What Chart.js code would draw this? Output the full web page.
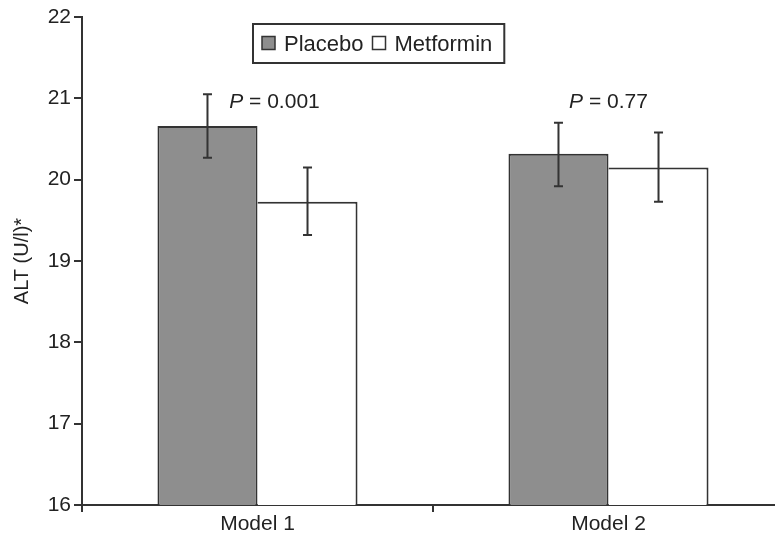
<!DOCTYPE html>
<html lang="en">
<head>
  <meta charset="UTF-8">
  <title>ALT by treatment</title>
  <script src="https://cdn.jsdelivr.net/npm/chart.js"></script>
  <style>
    body { margin: 0; background: #fff; overflow: hidden; }
    .wrap { width: 775px; height: 546px; overflow: hidden; }
    canvas { display: block; }
  </style>
</head>
<body>
  <div class="wrap"><canvas id="altChart" width="784" height="546"></canvas></div>

  <script>
    // Data
    const categories = ["Model 1", "Model 2"];
    const placebo = [20.66, 20.32];
    const metformin = [19.73, 20.15];
    const placeboHigh = [21.05, 20.70];
    const placeboLow = [20.27, 19.92];
    const metforminHigh = [20.15, 20.58];
    const metforminLow = [19.32, 19.73];
    const pValues = ["0.001", "0.77"];

    const ink = "#333";
    const fontFamily = "'Liberation Sans', Arial, sans-serif";

    // Error bars (whiskers with caps)
    const errorBars = {
      id: "errorBars",
      afterDatasetsDraw(chart) {
        const ctx = chart.ctx;
        const y = chart.scales.y;
        const ranges = [[placeboLow, placeboHigh], [metforminLow, metforminHigh]];
        ctx.save();
        ctx.strokeStyle = ink;
        ctx.lineWidth = 2;
        ranges.forEach(([lo, hi], di) => {
          chart.getDatasetMeta(di).data.forEach((bar, i) => {
            const yl = y.getPixelForValue(lo[i]);
            const yh = y.getPixelForValue(hi[i]);
            ctx.beginPath();
            ctx.moveTo(bar.x, yl); ctx.lineTo(bar.x, yh);
            ctx.moveTo(bar.x - 4.5, yl); ctx.lineTo(bar.x + 4.5, yl);
            ctx.moveTo(bar.x - 4.5, yh); ctx.lineTo(bar.x + 4.5, yh);
            ctx.stroke();
          });
        });
        ctx.restore();
      }
    };

    // P value labels above each model
    const pLabels = {
      id: "pLabels",
      afterDatasetsDraw(chart) {
        const ctx = chart.ctx;
        const x = chart.scales.x;
        const y = chart.scales.y;
        const shift = [17, 0];
        ctx.save();
        ctx.fillStyle = "#222";
        ctx.textBaseline = "middle";
        pValues.forEach((p, i) => {
          const rest = " = " + p;
          ctx.font = "italic 21px " + fontFamily;
          const wP = ctx.measureText("P").width;
          ctx.font = "21px " + fontFamily;
          const wR = ctx.measureText(rest).width;
          const left = x.getPixelForValue(i) + shift[i] - (wP + wR) / 2;
          const ty = y.getPixelForValue(21) + 4;
          ctx.font = "italic 21px " + fontFamily;
          ctx.fillText("P", left, ty);
          ctx.font = "21px " + fontFamily;
          ctx.fillText(rest, left + wP, ty);
        });
        ctx.restore();
      }
    };

    // Boxed legend inside the plot
    const boxLegend = {
      id: "boxLegend",
      afterDraw(chart) {
        const ctx = chart.ctx;
        const left = 253, top = 24, height = 39;
        const cy = top + height / 2;
        ctx.save();
        ctx.font = "22px " + fontFamily;
        ctx.textBaseline = "middle";
        let cx = left + 9;
        chart.data.datasets.forEach((ds, i) => {
          ctx.fillStyle = ds.backgroundColor;
          ctx.fillRect(cx, cy - 7, 13, 13);
          ctx.strokeStyle = ink;
          ctx.lineWidth = 1.5;
          ctx.strokeRect(cx, cy - 7, 13, 13);
          cx += 22;
          ctx.fillStyle = "#222";
          ctx.fillText(ds.label, cx, cy + 1);
          cx += ctx.measureText(ds.label).width + (i === 0 ? 9 : 12);
        });
        ctx.strokeStyle = ink;
        ctx.lineWidth = 2;
        ctx.strokeRect(left, top, cx - left, height);
        ctx.restore();
      }
    };

    const ctx = document.getElementById("altChart").getContext("2d");
    new Chart(ctx, {
      type: "bar",
      data: {
        labels: categories,
        datasets: [
          {
            label: "Placebo",
            data: placebo,
            backgroundColor: "#8e8e8e",
            borderColor: ink,
            borderWidth: 2
          },
          {
            label: "Metformin",
            data: metformin,
            backgroundColor: "#ffffff",
            borderColor: ink,
            borderWidth: 2,
            borderSkipped: "left"
          }
        ]
      },
      options: {
        responsive: false,
        animation: false,
        layout: { padding: { top: 17, left: 0, right: 0, bottom: 0 } },
        datasets: {
          bar: { categoryPercentage: 0.57, barPercentage: 1.0 }
        },
        plugins: {
          legend: { display: false },
          tooltip: { enabled: false }
        },
        scales: {
          x: {
            grid: { display: true, drawOnChartArea: false, drawTicks: true, tickLength: 7, color: ink, lineWidth: 2, offset: true },
            border: { display: true, color: ink, width: 2 },
            ticks: { color: "#222", font: { family: fontFamily, size: 21 }, padding: 0 },
            afterFit(scale) { scale.height = 41; }
          },
          y: {
            min: 16,
            max: 22,
            ticks: { stepSize: 1, color: "#222", font: { family: fontFamily, size: 21 }, padding: 3 },
            grid: { display: true, drawOnChartArea: false, drawTicks: true, tickLength: 8, color: ink, lineWidth: 2 },
            border: { display: true, color: ink, width: 2 },
            title: {
              display: true,
              text: "ALT (U/l)*",
              color: "#222",
              font: { family: fontFamily, size: 20 },
              padding: { top: 10, bottom: 0 }
            },
            afterFit(scale) { scale.width = 82; }
          }
        }
      },
      plugins: [errorBars, pLabels, boxLegend]
    });
  </script>
</body>
</html>
